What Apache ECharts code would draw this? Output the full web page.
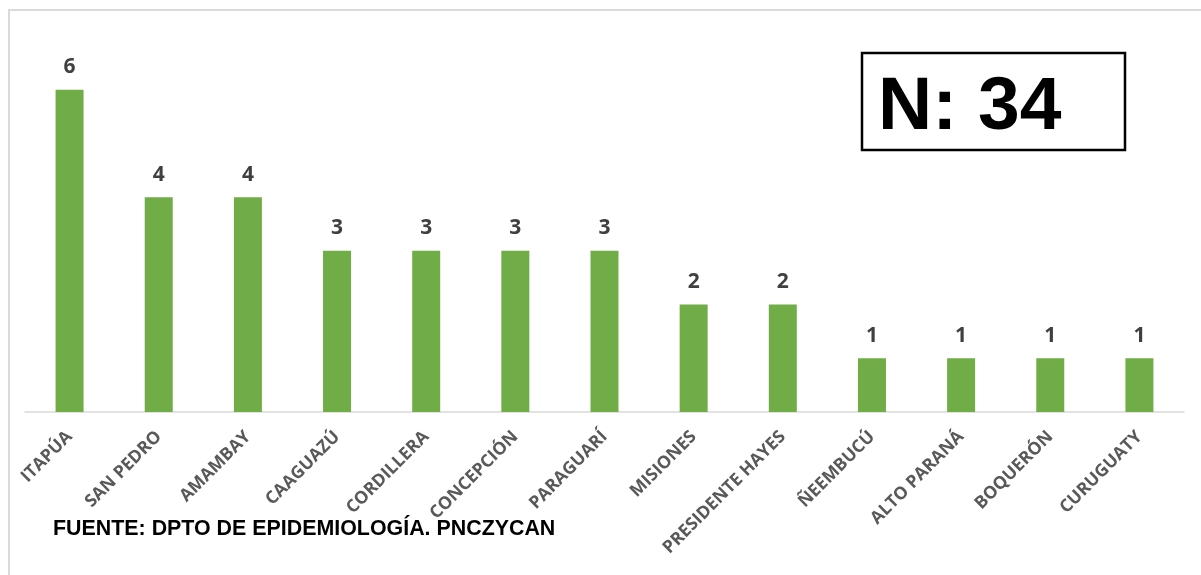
<!DOCTYPE html>
<html>
<head>
<meta charset="utf-8">
<script src="https://cdn.jsdelivr.net/npm/echarts@6/dist/echarts.min.js"></script>
<style>
html,body{margin:0;padding:0;background:#fff;}
#chart{width:1201px;height:575px;}
</style>
</head>
<body>
<div id="chart"></div>
<script>
const categories = ['ITAPÚA','SAN PEDRO','AMAMBAY','CAAGUAZÚ','CORDILLERA','CONCEPCIÓN','PARAGUARÍ','MISIONES','PRESIDENTE HAYES','ÑEEMBUCÚ','ALTO PARANÁ','BOQUERÓN','CURUGUATY'];
const casos = [6,4,4,3,3,3,3,2,2,1,1,1,1];
const totalText = 'N: 34';
const fuenteText = 'FUENTE: DPTO DE EPIDEMIOLOGÍA. PNCZYCAN';

const chart = echarts.init(document.getElementById('chart'), null, {renderer:'canvas'});
chart.setOption({
  animation:false,
  backgroundColor:'#ffffff',
  grid:{left:25, right:17, top:36, bottom:163, containLabel:false},
  xAxis:{
    type:'category',
    data:categories,
    axisLine:{show:true, lineStyle:{color:'#d9d9d9', width:1.5}},
    axisTick:{show:false},
    axisLabel:{
      rotate:45, interval:0, margin:22,
      color:'#595959', fontFamily:'Open Sans', fontWeight:'bold', fontSize:17.5
    }
  },
  yAxis:{type:'value', min:0, max:7, show:false, splitLine:{show:false}},
  series:[{
    type:'bar',
    data:casos,
    barWidth:28,
    itemStyle:{color:'#70ad47'},
    label:{
      show:true, position:'top', distance:12,
      color:'#404040', fontFamily:'Open Sans', fontWeight:'bold', fontSize:21
    }
  }],
  graphic:[
    {type:'rect', shape:{x:9, y:10, width:1200, height:600}, style:{fill:null, stroke:'#d9d9d9', lineWidth:2}, silent:true},
    {type:'rect', shape:{x:862, y:53, width:263, height:97}, style:{fill:'#fff', stroke:'#000', lineWidth:2.5}, silent:true},
    {type:'text', x:878, y:108, style:{text:totalText, font:'bold 75px "Liberation Sans", Arial, sans-serif', fill:'#000', verticalAlign:'middle', align:'left'}},
    {type:'text', x:53, y:529, style:{text:fuenteText, font:'bold 21.4px "Liberation Sans", Arial, sans-serif', fill:'#000', verticalAlign:'middle', align:'left'}}
  ]
});
</script>
</body>
</html>
